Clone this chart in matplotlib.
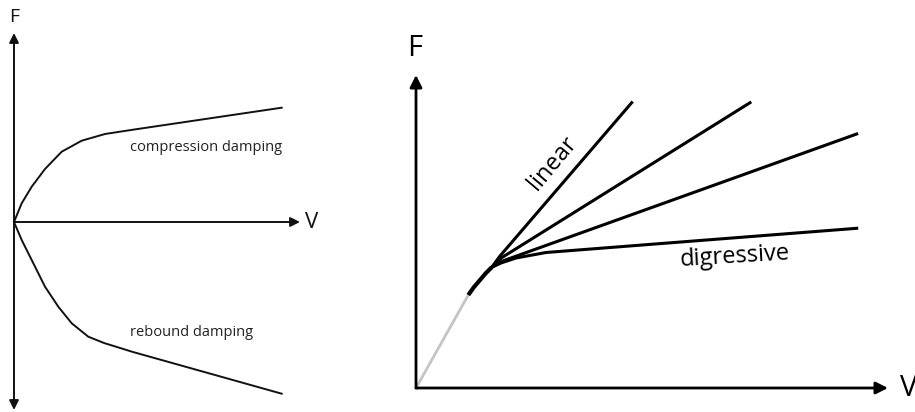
#damper force/velocity sketches: compression vs rebound, and linear vs digressive

import matplotlib
matplotlib.use('Agg')
import matplotlib.pyplot as plt

plt.rcParams['font.family'] = ['Open Sans', 'DejaVu Sans']

#left sketch: velocity / force pairs
compV = [0, 7.7, 17.7, 31, 47.7, 67.7, 91, 119, 267.7]
compF = [0, 18.7, 35.3, 53, 70.3, 81.3, 88, 92.3, 114.3]
rebV = [0, 7.7, 17.7, 31, 44.3, 57.7, 74.3, 90, 119, 267.7]
rebF = [0, -18, -38, -64.7, -84.7, -101.3, -114.7, -121, -130, -171.7]

#right sketch
greyV = [0, 52.3]
greyF = [0, 93]
stemV = [52.3, 58, 64, 70, 75.7]
stemF = [93, 101, 108, 115, 120.7]
linV = [75.7, 84, 215.7]
linF = [120.7, 132, 285.3]
midV = [75.7, 86, 334]
midF = [120.7, 130.5, 285.3]
progV = [75.7, 88, 440.7]
progF = [120.7, 127.5, 254]
digV = [75.7, 85, 100, 130, 440.7]
digF = [120.7, 125, 130, 135.5, 159.7]

fig = plt.figure(figsize=(9.15, 4.12), dpi=100)

#left panel
ax1 = fig.add_axes([0, 0, 330/915, 1])
ax1.set_xlim(-14, 316)
ax1.set_ylim(-190, 222)
ax1.axis('off')
arr = dict(arrowstyle='-|>', mutation_scale=14, lw=1.4, color='#111111', shrinkA=0, shrinkB=0)
ax1.annotate('', xy=(0, 189), xytext=(0, 0), arrowprops=arr)
ax1.annotate('', xy=(0, -188), xytext=(0, 0), arrowprops=arr)
ax1.annotate('', xy=(286, 0), xytext=(0, 0), arrowprops=arr)
ax1.plot(compV, compF, color='#111111', lw=1.4, solid_joinstyle='round')
ax1.plot(rebV, rebF, color='#111111', lw=1.4, solid_joinstyle='round')
ax1.text(0, 205, 'F', fontsize=14, ha='center', va='center', color='#111111')
ax1.text(291, 0, 'V', fontsize=16, ha='left', va='center', color='#111111')
ax1.text(116, 75, 'compression damping', fontsize=10.5, ha='left', va='center', color='#222222')
ax1.text(116, -110, 'rebound damping', fontsize=10.5, ha='left', va='center', color='#222222')

#right panel
ax2 = fig.add_axes([400/915, 0, 515/915, 1])
ax2.set_xlim(-16, 499)
ax2.set_ylim(-24, 388)
ax2.axis('off')
arr2 = dict(arrowstyle='-|>', mutation_scale=18, lw=2, color='black', shrinkA=0, shrinkB=0)
ax2.annotate('', xy=(0, 313), xytext=(0, 0), arrowprops=arr2)
ax2.annotate('', xy=(472, 0), xytext=(0, 0), arrowprops=arr2)
ax2.plot(greyV, greyF, color='#c4c4c4', lw=2)
ax2.plot(stemV, stemF, color='black', lw=3, solid_capstyle='butt')
for v, f in [(linV, linF), (midV, midF), (progV, progF), (digV, digF)]:
    ax2.plot(v, f, color='black', lw=2.2, solid_joinstyle='round')
ax2.text(-1, 340, 'F', fontsize=21, ha='center', va='center')
ax2.text(484, 0, 'V', fontsize=21, ha='left', va='center')
ax2.text(137, 225, 'linear', fontsize=17, rotation=50, ha='center', va='center', rotation_mode='anchor')
ax2.text(319, 131, 'digressive', fontsize=17, rotation=3.5, ha='center', va='center', rotation_mode='anchor')

fig.savefig('out.png', dpi=100)
